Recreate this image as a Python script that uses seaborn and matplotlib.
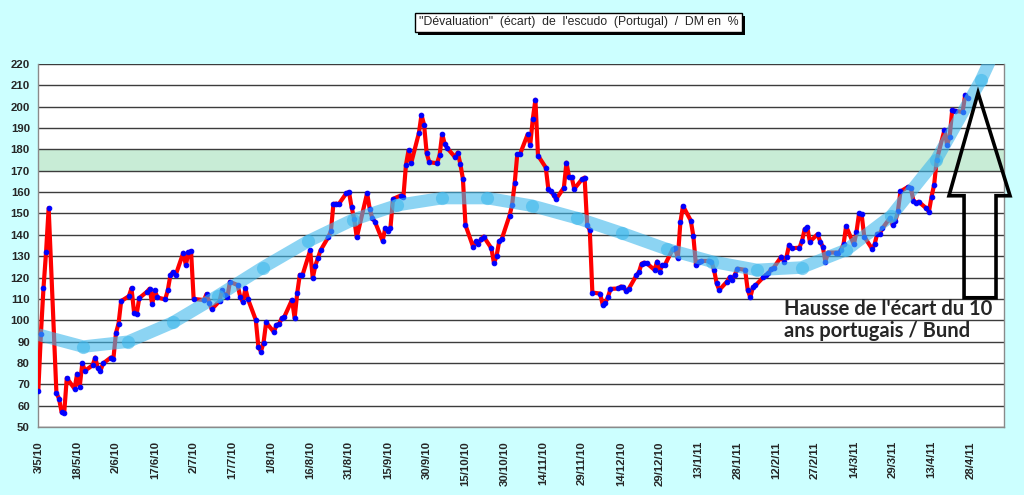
import numpy as np
import pandas as pd
import seaborn as sns
import matplotlib.pyplot as plt
from matplotlib.patches import Polygon, Rectangle
from matplotlib.transforms import IdentityTransform

# ecart escudo / DM en %, un point par jour ouvre (5/7/10 et 6/9/10 absents)
start = "2010-05-03"
end = "2011-04-27"
missing_days = ["2010-07-05", "2010-09-06"]
values = [
    67, 93.5, 115, 132, 152.5,
    66, 63.4, 57, 56.6, 73,
    68, 75, 69, 80, 76.4,
    79, 82.6, 77.5, 76.4, 79.8,
    82.6, 82, 94, 98.5, 109,
    111.3, 115, 103.5, 103, 110.4,
    113.4, 114.8, 107.6, 114, 110.7,
    109.8, 114, 121, 122.6, 121,
    131.6, 125.8, 131.8, 132.4, 110,
    109.5, 112.3, 108.3, 105.2,
    109, 114, 112, 110.7, 118,
    116.5, 111, 108.6, 114.9, 109.9,
    100.2, 87.7, 85.4, 89.6, 99,
    94.5, 97.9, 98.2, 101, 101.6,
    109.6, 101, 112.7, 121.3, 121,
    132.7, 119.7, 125.6, 129.2, 132.7,
    138.9, 141.6, 154.5, 154.6, 154.3,
    159.5, 160, 153, 147.5, 138.8,
    159.5, 152.2, 147.8, 146.2,
    137.2, 143.1, 142, 143.1, 156.8,
    158.4, 157.6, 172.7, 179.5, 173.5,
    187.6, 196.1, 191.5, 178.2, 174,
    173.5, 177.3, 187.1, 182.4, 180.5,
    176.3, 178.5, 173.2, 166.2, 144.5,
    134.2, 136.9, 135.8, 138, 139.2,
    133.7, 126.7, 130.1, 136.9, 138,
    149, 154, 164.2, 177.7, 177.6,
    187, 182.1, 194.3, 203.2, 177.1,
    171.5, 161.4, 160.3, 158.7, 156.7,
    162.1, 173.8, 167, 167, 161.5,
    166, 166.8, 144.4, 142.3, 113,
    112.5, 107.2, 108.3, 110.8, 114.7,
    114.9, 115.8, 115.6, 113.8, 114.6,
    121, 122.6, 126.5, 127, 126.7,
    123.6, 127.5, 122.8, 125.9, 125.9,
    133.2, 133.7, 129, 145.9, 153.5,
    146.7, 139.5, 125.9, 127.5, 127.8,
    127.8, 127.5, 123.6, 117.3, 114.2,
    118.1, 120.1, 118.9, 121.2, 124.2,
    123.6, 114.2, 110.8, 115.5, 116.3,
    120.1, 121.2, 122, 123.9, 124.6,
    129.8, 127.5, 129.8, 135.3, 133.7,
    134, 137.3, 142.6, 143.5, 136.8,
    140.3, 136.8, 134.5, 127.5, 131.7,
    131.7, 131.5, 133, 135.5, 144,
    135.5, 141.3, 150, 149.6, 139.2,
    133.5, 135.5, 140.5, 140.5, 143,
    148, 144.5, 146.3, 151, 160.3,
    162.5, 162, 156, 155, 155.5,
    152.4, 150.9, 157.9, 163.4, 175,
    189.1, 182.1, 186, 198.5, 198,
    197.5, 205.5, 204,
]

# courbe de tendance
trend_start = "2010-05-03"
trend_end = "2011-05-19 12:00"
trend_values = [93.3, 87.7, 90, 99, 111.5, 124.7, 136.9, 147, 153.9, 157.2,
                157.2, 153.6, 147.8, 140.8, 133.3, 127.5, 123.6, 124.7, 133,
                148.9, 175.1, 212.5, 258]

title = "\"Dévaluation\"  (écart)  de  l'escudo  (Portugal)  /  DM en  %"
note = "Hausse de l'écart du 10\nans portugais / Bund"

dates = pd.bdate_range(start, end, freq="C", holidays=missing_days)
df = pd.DataFrame({"date": dates, "ecart": values})
trend_dates = pd.date_range(trend_start, trend_end, periods=len(trend_values))
tick_dates = pd.date_range("2010-05-03", periods=25, freq="15D")

sns.set_style("white")
plt.rcParams["font.family"] = ["Liberation Sans", "DejaVu Sans"]

fig = plt.figure(figsize=(10.24, 4.95), dpi=100, facecolor="#ccffff")
ax = fig.add_axes([0.0374, 0.137, 0.9431, 0.734])
ax.set_facecolor("white")

ax.axhspan(170, 180, color="#c8ecd6", zorder=0.3, lw=0)
ax.set_axisbelow(True)
ax.yaxis.grid(True, color="#3c3c3c", lw=1.0)

sns.lineplot(data=df, x="date", y="ecart", ax=ax, color="red", lw=3.0,
             marker="o", markersize=3.3, markerfacecolor="blue",
             markeredgecolor="blue", zorder=3)

ax.plot(trend_dates, trend_values, color="#3fb8ec", alpha=0.6, lw=9,
        solid_capstyle="butt", marker="o", markersize=9.5,
        markevery=list(range(1, len(trend_values) - 1)),
        markeredgewidth=0, zorder=4)

ax.set_xlim(pd.Timestamp("2010-05-03"), pd.Timestamp("2011-05-11"))
ax.set_ylim(50, 220)
ax.set_yticks(range(50, 221, 10))
ax.set_xticks(tick_dates)
ax.set_xticklabels([f"{d.day}/{d.month}/{d.year % 100}" for d in tick_dates],
                   rotation=90, va="top", ha="center")
ax.set_xlabel("")
ax.set_ylabel("")
ax.tick_params(axis="both", which="both", direction="out", length=4,
               color="#808080", labelsize=8.2, pad=2)
ax.tick_params(axis="x", pad=6)
for lab in ax.get_xticklabels() + ax.get_yticklabels():
    lab.set_fontweight("bold")

for side in ["left", "bottom", "right"]:
    ax.spines[side].set_color("#8a8a8a")
    ax.spines[side].set_linewidth(1.0)
ax.spines["top"].set_visible(False)

# titre encadre avec ombre
t = fig.text(0.565, 0.955, title, ha="center", va="center", fontsize=8.8,
             zorder=5,
             bbox=dict(boxstyle="square,pad=0.28", fc="white", ec="black", lw=1))
fig.canvas.draw()
bb = t.get_bbox_patch().get_window_extent()
fig.add_artist(Rectangle((bb.x0 + 3, bb.y0 - 3), bb.width, bb.height,
                         fc="black", ec="none", zorder=1,
                         transform=IdentityTransform()))

ax.text(0.772, 0.354, note, transform=ax.transAxes, ha="left", va="top",
        fontsize=14.5, fontweight="bold", family=["Lato", "DejaVu Sans"],
        linespacing=1.15, zorder=6)

arrow = [(0.9731, 0.9202), (1.0062, 0.6370), (0.9917, 0.6370),
         (0.9917, 0.3562), (0.9586, 0.3562), (0.9586, 0.6370),
         (0.9430, 0.6370)]
ax.add_patch(Polygon(arrow, closed=True, fill=False, ec="black", lw=2.6,
                     transform=ax.transAxes, clip_on=False, zorder=7))

fig.savefig("out.png", dpi=100, facecolor=fig.get_facecolor())
